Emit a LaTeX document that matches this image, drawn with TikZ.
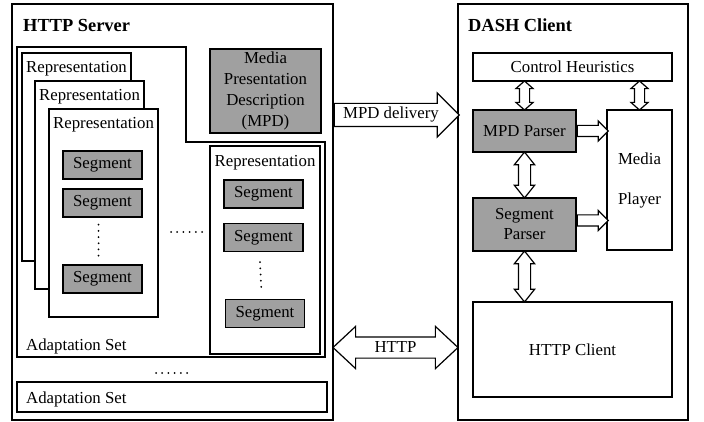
\documentclass[tikz,border=0pt]{standalone}
\usepackage{fontspec}
\setmainfont{Liberation Serif}
\usetikzlibrary{positioning,calc,shapes.arrows}
\definecolor{partgrey}{RGB}{160,160,160}
\tikzset{
	txt/.style={font=\fontsize{16.8}{20}\selectfont, inner sep=0pt},
	title/.style={font=\fontsize{18.4}{22}\selectfont\bfseries, inner sep=0pt, anchor=base west},
	box/.style={draw, line width=1.3pt, rectangle, txt, align=center},
	greybox/.style={box, fill=partgrey},
	repbox/.style={box, fill=white, minimum width=109pt, minimum height=208pt},
	segbox/.style={greybox, minimum width=79pt, minimum height=28pt},
	dots/.style={line width=2pt, line cap=round, dash pattern=on 0pt off 6.2pt},
	hollow/.style={draw, line width=1.2pt, fill=white, txt, inner xsep=0pt},
	smallBiArrow/.style={hollow, double arrow, rotate=90, text height=0pt, text depth=0pt, inner ysep=4.5pt, double arrow head extend=3.5pt, double arrow tip angle=97},
	bigBiArrow/.style={hollow, double arrow, rotate=90, text height=0pt, text depth=0pt, inner ysep=5.5pt, double arrow head extend=4pt, double arrow tip angle=77},
	feedArrow/.style={hollow, single arrow, anchor=tail, text height=0pt, text depth=0pt, inner ysep=5pt, single arrow head extend=4.5pt, single arrow tip angle=90, minimum height=31pt}
}
\begin{document}
\begin{tikzpicture}[x=1pt, y=-1pt]
	\useasboundingbox (0,0) rectangle (704,422);

	% server side
	\node[box, minimum width=321pt, minimum height=416pt](server) at (172.5,212){};
	\node[title](serverTitle) at (23,32){HTTP Server};
	\draw[line width=1.3pt] (17,47) -- (186,47) -- (186,142) -- (325,142) -- (325,357) -- (17,357) -- cycle;
	\node[txt, anchor=base west](adaptOne) at (26,350){Adaptation Set};

	\node[repbox](rep1) at (76.5,157){};
	\node[repbox](rep2) at (89.5,185){};
	\node[repbox](rep3) at (103.5,213){};
	\node[txt, anchor=base](rep1Text) at ([yshift=-20pt]rep1.north){Representation};
	\node[txt, anchor=base](rep2Text) at ([yshift=-20pt]rep2.north){Representation};
	\node[txt, anchor=base](rep3Text) at ([yshift=-20pt]rep3.north){Representation};

	\node[segbox](seg1) at (102.5,165){Segment};
	\node[segbox](seg2) at (102.5,203){Segment};
	\node[segbox](seg3) at (102.5,279){Segment};
	\draw[dots] ($(seg2.south)+(-4,7)$) -- ($(seg3.north)+(-4,-8)$);

	\node[greybox, minimum width=111pt, minimum height=84pt, font=\fontsize{16.8}{21}\selectfont](mpd) at (265.5,91){Media\\Presentation\\Description\\(MPD)};

	\node[repbox, minimum width=110pt](rep4) at (265,250){};
	\node[txt, anchor=base](rep4Text) at ([yshift=-21pt]rep4.north){Representation};
	\node[segbox](seg4) at (263.5,194){Segment};
	\node[segbox](seg5) at (263.5,237.5){Segment};
	\node[segbox](seg6) at (265,313.5){Segment};
	\draw[dots] ($(seg5.south)+(-3.5,10)$) -- ($(seg6.north)+(-3.5,-6)$);

	\draw[dots] (171,232) -- (202,232);
	\draw[dots] (156,373) -- (187,373);

	\node[box, minimum width=310pt, minimum height=30pt](adaptTwo) at (172,397){};
	\node[txt, anchor=base west](adaptTwoText) at (26,403){Adaptation Set};

	% client side
	\node[box, minimum width=230pt, minimum height=416pt](client) at (573,212){};
	\node[title](clientTitle) at (468,32){DASH Client};

	\node[box, minimum width=199pt, minimum height=28pt](ctrl) at (572.5,67){Control Heuristics};
	\node[greybox, minimum width=103pt, minimum height=42pt](mpdParser) at (524.5,131){MPD Parser};
	\node[box, minimum width=65pt, minimum height=140pt, font=\fontsize{16.8}{40}\selectfont](player) at (639.5,180){Media\\Player};
	\node[greybox, minimum width=103pt, minimum height=53pt](segParser) at (524.5,224.5){Segment\\Parser};
	\node[box, minimum width=199pt, minimum height=95pt](httpClient) at (572.5,349.5){HTTP Client};

	% draw client arrows
	\node[smallBiArrow, minimum height=29pt](ctrlParserArrow) at ($(ctrl.south -| mpdParser.north)!0.5!(mpdParser.north)$){};
	\node[smallBiArrow, minimum height=29pt](ctrlPlayerArrow) at ($(ctrl.south -| player.north)!0.5!(player.north)$){};
	\node[bigBiArrow, minimum height=46pt](parserArrow) at ($(mpdParser.south)!0.5!(segParser.north)$){};
	\node[bigBiArrow, minimum height=51pt](fetchArrow) at ($(segParser.south)!0.5!(httpClient.north -| segParser.south)$){};
	\node[feedArrow](mpdFeed) at (mpdParser.east){};
	\node[feedArrow, yshift=4pt](segFeed) at (segParser.east){};

	% draw delivery arrows
	\coordinate (mpdLevel) at (0,115);
	\node[hollow, single arrow, anchor=tail, text height=12pt, text depth=4pt, inner ysep=3pt, single arrow head extend=10.5pt, single arrow tip angle=90, minimum height=125pt](mpdDelivery) at (server.east |- mpdLevel){MPD delivery};
	\node[hollow, double arrow, text height=12pt, text depth=2pt, inner ysep=3pt, double arrow head extend=10.5pt, double arrow tip angle=86, minimum height=125pt, yshift=2pt](httpArrow) at ($(server.east |- httpClient)!0.5!(client.west |- httpClient)$){HTTP};

\end{tikzpicture}
\end{document}
